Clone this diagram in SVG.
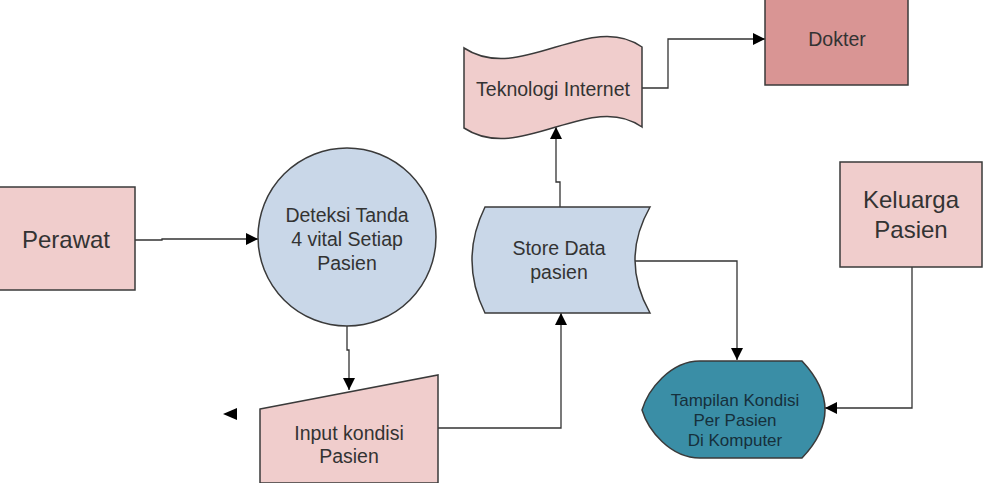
<svg xmlns="http://www.w3.org/2000/svg" width="983" height="483" viewBox="0 0 983 483">
<style>
.s{stroke:#3a3a3a;stroke-width:1.5}
.pink{fill:#f0cdcc}
.blue{fill:#c9d7e8}
.t{font-family:"Liberation Sans",Arial,sans-serif;fill:#333;text-anchor:middle}
.c{fill:none;stroke:#333;stroke-width:1.3}
</style>
<defs>
<marker id="a" viewBox="0 0 10 10" refX="10" refY="5" markerWidth="12" markerHeight="12" markerUnits="userSpaceOnUse" orient="auto">
<path d="M0,0 L10,5 L0,10 Z" fill="#000"/>
</marker>
</defs>
<rect width="983" height="483" fill="#fff"/>
<g id="connectors">
<path class="c" d="M135,240 L162,240 L162,239 L258,239" marker-end="url(#a)"/>
<path class="c" d="M347,325 L347,350 L349,350 L349,390" marker-end="url(#a)"/>
<path class="c" d="M438,428 L561,428 L561,313" marker-end="url(#a)"/>
<path class="c" d="M560,207 L560,182 L556,182 L556,127" marker-end="url(#a)"/>
<path class="c" d="M642,88 L668,88 L668,39 L765,39" marker-end="url(#a)"/>
<path class="c" d="M635,261 L737,261 L737,360" marker-end="url(#a)"/>
<path class="c" d="M912,267 L912,408 L825,408" marker-end="url(#a)"/>
<path d="M223,414 L237,408 L237,420 Z" fill="#000"/>
</g>
<g id="perawat">
<rect class="s pink" x="-2" y="187" width="137" height="103"/>
<text class="t" x="66" y="248" font-size="24">Perawat</text>
</g>
<g id="deteksi">
<circle class="s blue" cx="347" cy="237" r="89"/>
<text class="t" font-size="19.5"><tspan x="347" y="222">Deteksi Tanda</tspan><tspan x="347" y="246">4 vital Setiap</tspan><tspan x="347" y="270">Pasien</tspan></text>
</g>
<g id="input">
<path class="s pink" d="M260,409 L438,375 L438,483 L260,483 Z"/>
<text class="t" font-size="19.5"><tspan x="349" y="440">Input kondisi</tspan><tspan x="349" y="463">Pasien</tspan></text>
</g>
<g id="store">
<path class="s blue" d="M485,207 L650,207 Q620,260 650,313 L485,313 Q459,260 485,207 Z"/>
<text class="t" font-size="19.5"><tspan x="559" y="255">Store Data</tspan><tspan x="559" y="279">pasien</tspan></text>
</g>
<g id="teknologi">
<path class="s pink" d="M464,48 C520,85 590,10 642,47 L642,127 C590,90 520,165 464,128 Z"/>
<text class="t" x="553" y="96" font-size="19.5">Teknologi Internet</text>
</g>
<g id="dokter">
<rect class="s" fill="#d99594" x="765" y="-2" width="143" height="87"/>
<text class="t" x="837" y="46" font-size="19.5">Dokter</text>
</g>
<g id="keluarga">
<rect class="s pink" x="840" y="162" width="142" height="105"/>
<text class="t" font-size="24"><tspan x="911" y="208">Keluarga</tspan><tspan x="911" y="238">Pasien</tspan></text>
</g>
<g id="tampilan">
<path class="s" fill="#3a8ea6" d="M700,361 L802,361 Q848,410 802,458 L700,458 C670,458 648,430 642,410 C648,390 670,361 700,361 Z"/>
<text class="t" font-size="17" style="fill:#16303c"><tspan x="735" y="406">Tampilan Kondisi</tspan><tspan x="735" y="426">Per Pasien</tspan><tspan x="735" y="446">Di Komputer</tspan></text>
</g>
</svg>
